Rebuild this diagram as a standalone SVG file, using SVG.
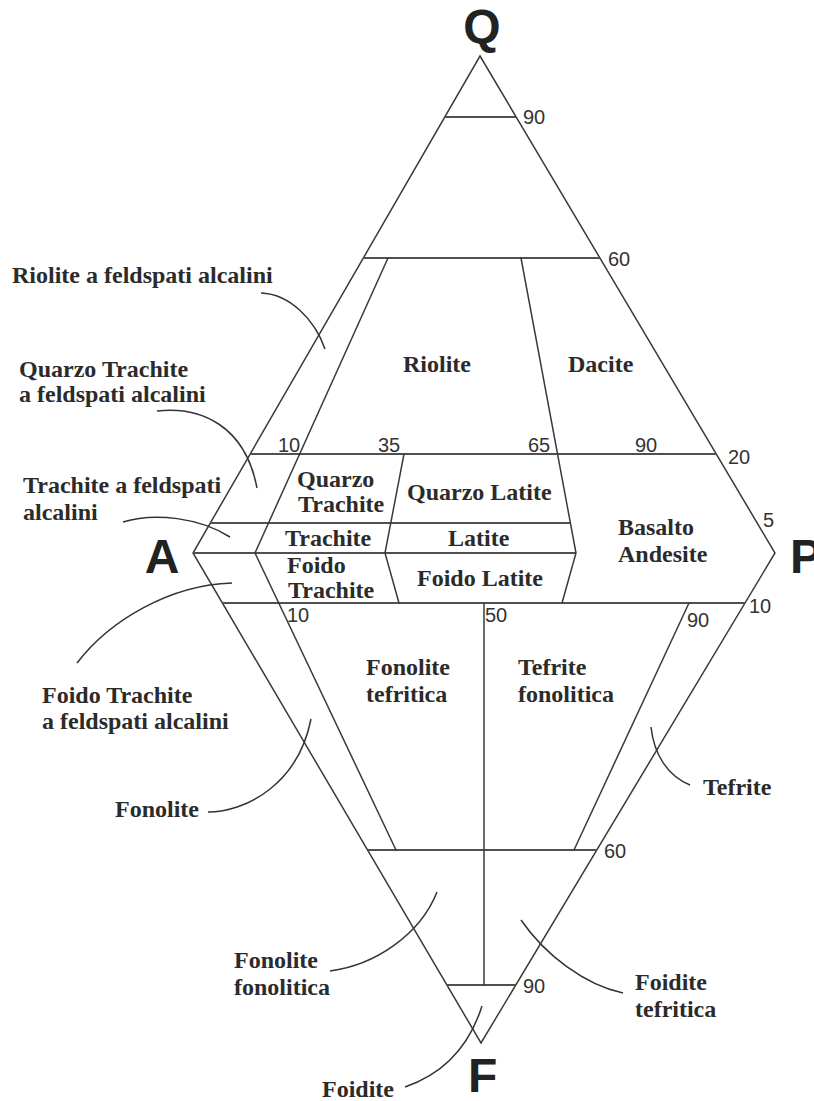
<svg xmlns="http://www.w3.org/2000/svg" width="814" height="1101" viewBox="0 0 814 1101">
<style>
.ln{fill:none;stroke:#3a3a3a;stroke-width:1.5;stroke-linecap:round;stroke-linejoin:miter}
.hz{fill:none;stroke:#505050;stroke-width:2}
.ld{fill:none;stroke:#333;stroke-width:1.5}
.lb{font-family:"Liberation Serif","Times New Roman",serif;font-weight:bold;font-size:24px;fill:#2b2b2b}
.nm{font-family:"Liberation Sans",Arial,sans-serif;font-size:20px;fill:#333}
.vx{font-family:"Liberation Sans",Arial,sans-serif;font-weight:bold;font-size:48px;fill:#222}
</style>
<rect width="814" height="1101" fill="#fff"/>
<g id="connectors">
<polygon class="ln" points="480,56 775,553 481,1043 193,553"/>
<line class="hz" x1="445" y1="117" x2="516" y2="117"/>
<line class="hz" x1="363" y1="258" x2="600" y2="258"/>
<line class="hz" x1="250" y1="454" x2="716" y2="454"/>
<line class="hz" x1="210" y1="523" x2="570" y2="523"/>
<line class="hz" x1="193" y1="553" x2="576" y2="553"/>
<line class="hz" x1="222" y1="603" x2="745" y2="603"/>
<line class="hz" x1="368" y1="850" x2="597" y2="850"/>
<line class="hz" x1="447" y1="985" x2="516" y2="985"/>
<polyline class="ln" points="388,258 255,553 396,850"/>
<polyline class="ln" points="404,454 385,553 399,603"/>
<polyline class="ln" points="521,258 576,553 562,603"/>
<line class="ln" x1="689" y1="603" x2="574" y2="850"/>
<line class="ln" x1="484" y1="603" x2="484" y2="985"/>
<path class="ld" d="M261,293 C290,294 315,320 325,349"/>
<path class="ld" d="M157,411 C200,406 245,425 257,488"/>
<path class="ld" d="M123,522 C155,512 200,518 230,537"/>
<path class="ld" d="M232,583 C170,585 110,620 77,663"/>
<path class="ld" d="M208,812 C245,812 298,785 311,719"/>
<path class="ld" d="M330,971 C375,965 420,935 437,892"/>
<path class="ld" d="M405,1087 C440,1075 468,1050 482,1006"/>
<path class="ld" d="M623,993 C585,985 545,955 521,920"/>
<path class="ld" d="M690,785 C668,776 654,755 651,727"/>
</g>
<g id="vertices">
<text id="Q" class="vx" x="482" y="43" text-anchor="middle">Q</text>
<text id="A" class="vx" x="162" y="573" text-anchor="middle">A</text>
<text id="P" class="vx" x="790" y="573">P</text>
<text id="F" class="vx" x="468" y="1092">F</text>
</g>
<g id="ticks">
<text class="nm" x="523" y="124">90</text>
<text class="nm" x="608" y="266">60</text>
<text class="nm" x="278" y="452">10</text>
<text class="nm" x="378" y="452">35</text>
<text class="nm" x="528" y="452">65</text>
<text class="nm" x="635" y="452">90</text>
<text class="nm" x="728" y="464">20</text>
<text class="nm" x="763" y="527">5</text>
<text class="nm" x="749" y="613">10</text>
<text class="nm" x="687" y="627">90</text>
<text class="nm" x="485" y="622">50</text>
<text class="nm" x="287" y="622">10</text>
<text class="nm" x="604" y="858">60</text>
<text class="nm" x="523" y="993">90</text>
</g>
<g id="fields">
<g id="riolite"><text class="lb" x="403" y="372">Riolite</text></g>
<g id="dacite"><text class="lb" x="568" y="372">Dacite</text></g>
<g id="quarzo-trachite"><text class="lb" x="297" y="487">Quarzo</text><text class="lb" x="298" y="512">Trachite</text></g>
<g id="quarzo-latite"><text class="lb" x="407" y="500">Quarzo Latite</text></g>
<g id="trachite"><text class="lb" x="285" y="546">Trachite</text></g>
<g id="latite"><text class="lb" x="448" y="546">Latite</text></g>
<g id="foido-trachite"><text class="lb" x="287" y="573">Foido</text><text class="lb" x="288" y="598">Trachite</text></g>
<g id="foido-latite"><text class="lb" x="417" y="586">Foido Latite</text></g>
<g id="basalto-andesite"><text class="lb" x="618" y="535">Basalto</text><text class="lb" x="618" y="562">Andesite</text></g>
<g id="fonolite-tefritica"><text class="lb" x="366" y="675">Fonolite</text><text class="lb" x="366" y="702">tefritica</text></g>
<g id="tefrite-fonolitica"><text class="lb" x="518" y="675">Tefrite</text><text class="lb" x="518" y="702">fonolitica</text></g>
</g>
<g id="callouts">
<g id="riolite-af"><text class="lb" x="12" y="283">Riolite a feldspati alcalini</text></g>
<g id="quarzo-trachite-af"><text class="lb" x="19" y="377">Quarzo Trachite</text><text class="lb" x="19" y="402">a feldspati alcalini</text></g>
<g id="trachite-af"><text class="lb" x="23" y="493">Trachite a feldspati</text><text class="lb" x="23" y="520">alcalini</text></g>
<g id="foido-trachite-af"><text class="lb" x="42" y="703">Foido Trachite</text><text class="lb" x="42" y="729">a feldspati alcalini</text></g>
<g id="fonolite"><text class="lb" x="115" y="817">Fonolite</text></g>
<g id="fonolite-fonolitica"><text class="lb" x="234" y="968">Fonolite</text><text class="lb" x="234" y="995">fonolitica</text></g>
<g id="foidite"><text class="lb" x="322" y="1097">Foidite</text></g>
<g id="foidite-tefritica"><text class="lb" x="635" y="990">Foidite</text><text class="lb" x="635" y="1017">tefritica</text></g>
<g id="tefrite"><text class="lb" x="703" y="795">Tefrite</text></g>
</g>
</svg>
